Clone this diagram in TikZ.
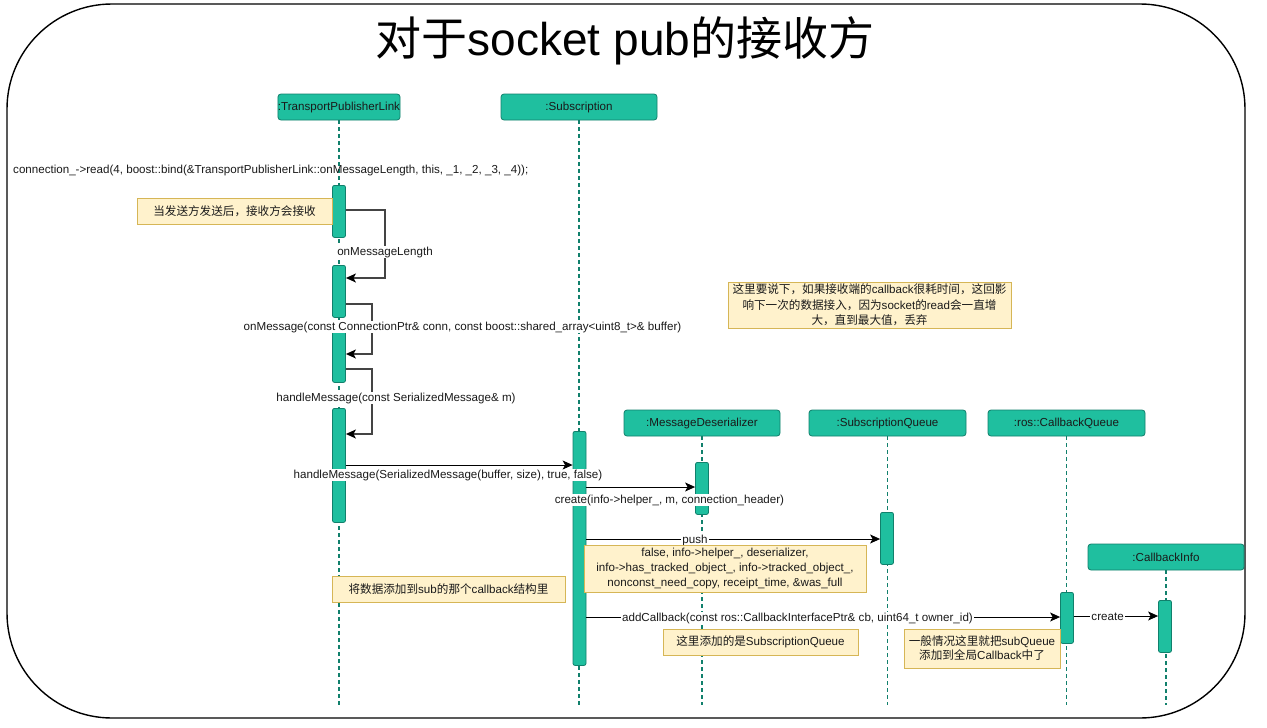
\documentclass[tikz,border=0pt]{standalone}
\usepackage{fontspec}
\setmainfont{Liberation Sans}
\newfontfamily\cjk{Noto Sans CJK SC}
\newcommand\zh[1]{{\cjk #1}}
\usetikzlibrary{arrows.meta,calc}
\definecolor{teal1}{HTML}{1FBF9F}
\definecolor{tealdk}{HTML}{11806C}
\definecolor{txt}{HTML}{1A1A1A}
\definecolor{notebg}{HTML}{FFF2CC}
\definecolor{notebd}{HTML}{D6B656}
\definecolor{loopc}{HTML}{444444}
\begin{document}
\begin{tikzpicture}[x=1pt,y=-1pt,font=\fontsize{11.6}{13.5}\selectfont,
  head/.style={draw=tealdk,fill=teal1,rounded corners=3pt,minimum height=26pt,inner sep=0pt,text=txt,line width=0.8pt},
  bar/.style={draw=tealdk,fill=teal1,rounded corners=2pt,minimum width=13pt,inner sep=0pt,anchor=north,line width=0.8pt},
  life/.style={draw=tealdk,dash pattern=on 3.5pt off 3.5pt,line width=1.1pt},
  loopar/.style={draw=loopc,line width=1.3pt,-{Stealth[length=10pt,width=9pt,inset=2.5pt,color=black]}},
  msg/.style={draw=black,line width=0.9pt,-{Stealth[length=10pt,width=9pt,inset=2.5pt]}},
  lbl/.style={fill=white,inner sep=1pt,text=txt},
  plain/.style={inner sep=1pt,text=txt},
  note/.style={draw=notebd,fill=notebg,line width=0.9pt,inner sep=0pt,align=center,text=txt}]
\useasboundingbox (0,0) rectangle (1267,728);
\fill[white] (0,0) rectangle (1267,728);
% frame
\draw[line width=1.4pt,rounded corners=105pt] (7,4) rectangle (1245,718);
\node[text=black] (title) at (625,41) {\fontsize{46}{52}\selectfont\zh{对于}socket pub\zh{的接收方}};
% heads
\node[head,minimum width=117pt] (tpl) at (339,107) {:TransportPublisherLink};
\node[head,minimum width=156pt] (sub) at (579,107) {:Subscription};
\node[head,minimum width=156pt] (md) at (702,423) {:MessageDeserializer};
\node[head,minimum width=157pt] (sq) at (887.5,423) {:SubscriptionQueue};
\node[head,minimum width=157pt] (cq) at (1066.5,423) {:ros::CallbackQueue};
\node[head,minimum width=156pt] (ci) at (1166,557) {:CallbackInfo};
% lifeline ends
\coordinate (tplE) at (339,705);
\coordinate (subE) at (579,705);
\coordinate (mdE) at (702,705);
\coordinate (sqE) at (887.5,705);
\coordinate (cqE) at (1066.5,705);
\coordinate (ciE) at (1166,705);
\draw[life] (tpl.south) -- (tplE);
\draw[life] (sub.south) -- (subE);
\draw[life] (md.south) -- (mdE);
\draw[life] (sq.south) -- (sqE);
\draw[life] (cq.south) -- (cqE);
\draw[life] (ci.south) -- (ciE);
% activation bars
\node[bar,minimum height=52pt] (b1) at (339,185) {};
\node[bar,minimum height=52pt] (b2) at (339,265) {};
\node[bar,minimum height=52pt] (b3) at (339,330) {};
\node[bar,minimum height=114pt] (b4) at (339,408) {};
\node[bar,minimum height=234pt] (sbar) at (579.5,431) {};
\node[bar,minimum height=52pt] (mdbar) at (702,462) {};
\node[bar,minimum height=52pt] (sqbar) at (887,512) {};
\node[bar,minimum height=51pt] (cqbar) at (1067,592) {};
\node[bar,minimum height=52pt] (cibar) at (1165,600) {};
% notes
\node[note,minimum width=195pt,minimum height=26pt] (n1) at (234.5,211) {\zh{当发送方发送后，接收方会接收}};
% self loops
\draw[loopar] ($(b1.north east)+(0,25)$) -- ++(39,0) |- ($(b2.north east)+(0,13)$);
\draw[loopar] ($(b2.north east)+(0,39)$) -- ++(26,0) |- ($(b3.north east)+(0,24)$);
\draw[loopar] ($(b3.north east)+(0,39)$) -- ++(26,0) |- ($(b4.north east)+(0,26)$);
\node[lbl] (l1) at (385,252) {onMessageLength};
\node[lbl] (l2) at (462.5,327) {onMessage(const ConnectionPtr\& conn, const boost::shared\_array<uint8\_t>\& buffer)};
\node[lbl] (l3) at (396,398) {handleMessage(const SerializedMessage\& m)};
\node[plain,anchor=west] (rd) at (12,170) {connection\_->read(4, boost::bind(\&TransportPublisherLink::onMessageLength, this, \_1, \_2, \_3, \_4));};
% messages
\node[lbl,inner sep=0.5pt] (l4) at (448,475) {handleMessage(SerializedMessage(buffer, size), true, false)};
\draw[msg] ($(b4.north east)+(0,57)$) -- ($(sbar.north west)+(0,34)$);
\draw[msg] ($(sbar.north east)+(0,56)$) -- ($(mdbar.north west)+(0,25)$);
\node[lbl] (l5) at (669.5,500) {create(info->helper\_, m, connection\_header)};
\draw[msg] ($(sbar.north east)+(0,108)$) -- node[lbl,pos=0.37,yshift=-1.5pt] (l6) {push} ($(sqbar.north west)+(0,27)$);
\node[note,minimum width=282pt,minimum height=47pt,font=\fontsize{11.6}{15}\selectfont] (n2) at (725,568.5) {false, info->helper\_, deserializer,\\ info->has\_tracked\_object\_, info->tracked\_object\_,\\ nonconst\_need\_copy, receipt\_time, \&was\_full};
\draw[msg] ($(sbar.north east)+(0,186)$) -- ($(cqbar.north west)+(0,25)$);
\node[lbl] (l7) at (797.5,618.5) {addCallback(const ros::CallbackInterfacePtr\& cb, uint64\_t owner\_id)};
\draw[msg] ($(cqbar.north east)+(0,24)$) -- node[lbl,pos=0.4,yshift=-0.5pt] (l8) {create} ($(cibar.north west)+(0,16)$);
% other notes
\node[note,minimum width=283pt,minimum height=46pt,font=\fontsize{11.6}{15.5}\selectfont] (n3) at (869.5,305) {\zh{这里要说下，如果接收端的}callback\zh{很耗时间，这回影}\\ \zh{响下一次的数据接入，因为}socket\zh{的}read\zh{会一直增}\\ \zh{大，直到最大值，丢弃}};
\node[note,minimum width=233pt,minimum height=26pt] (n4) at (448.5,589) {\zh{将数据添加到}sub\zh{的那个}callback\zh{结构里}};
\node[note,minimum width=195pt,minimum height=26pt] (n5) at (760.5,642) {\zh{这里添加的是}SubscriptionQueue};
\node[note,minimum width=156pt,minimum height=39pt,font=\fontsize{11.6}{14}\selectfont] (n6) at (982,648.5) {\zh{一般情况这里就把}subQueue\\ \zh{添加到全局}Callback\zh{中了}};
\end{tikzpicture}
\end{document}
